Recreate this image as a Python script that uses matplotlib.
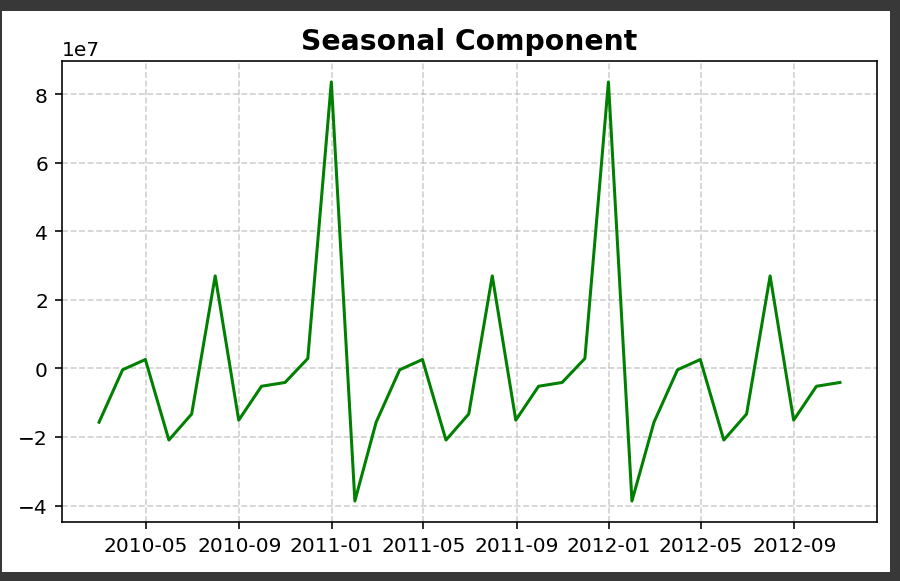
import matplotlib
matplotlib.use("Agg")
import matplotlib.pyplot as plt
import matplotlib.patches as mpatches
import pandas as pd
import numpy as np

# monthly seasonal component (repeats every 12 months), units of 1e7
dates = pd.date_range("2010-02-28", "2012-10-31", freq="ME")
season_by_month = {
    2: -1.57, 3: -0.04, 4: 0.26, 5: -2.09, 6: -1.33, 7: 2.70,
    8: -1.51, 9: -0.52, 10: -0.41, 11: 0.29, 12: 8.36, 1: -3.87,
}
seasonal = np.array([season_by_month[d.month] for d in dates]) * 1e7

fig = plt.figure(figsize=(900 / 145, 582 / 145), dpi=145, facecolor="#383838")
# white canvas inside the dark frame
frame = mpatches.Rectangle((2 / 900, 1 - 573 / 582), 888 / 900, 561 / 582,
                           transform=fig.transFigure, facecolor="white",
                           edgecolor="none", zorder=-10)
fig.add_artist(frame)
ax = fig.add_axes([62 / 900, 1 - 523 / 582, 815 / 900, 461 / 582])

ax.plot(dates, seasonal, color="green", linewidth=1.5)
ax.set_title("Seasonal Component", fontsize=14, fontweight="bold")
ax.grid(True, linestyle="--", alpha=0.6)

ax.set_xticks(pd.to_datetime(["2010-05-01", "2010-09-01", "2011-01-01", "2011-05-01",
                              "2011-09-01", "2012-01-01", "2012-05-01", "2012-09-01"]))
ax.xaxis.set_major_formatter(matplotlib.dates.DateFormatter("%Y-%m"))

fig.savefig("out.png", dpi=145, facecolor=fig.get_facecolor())
